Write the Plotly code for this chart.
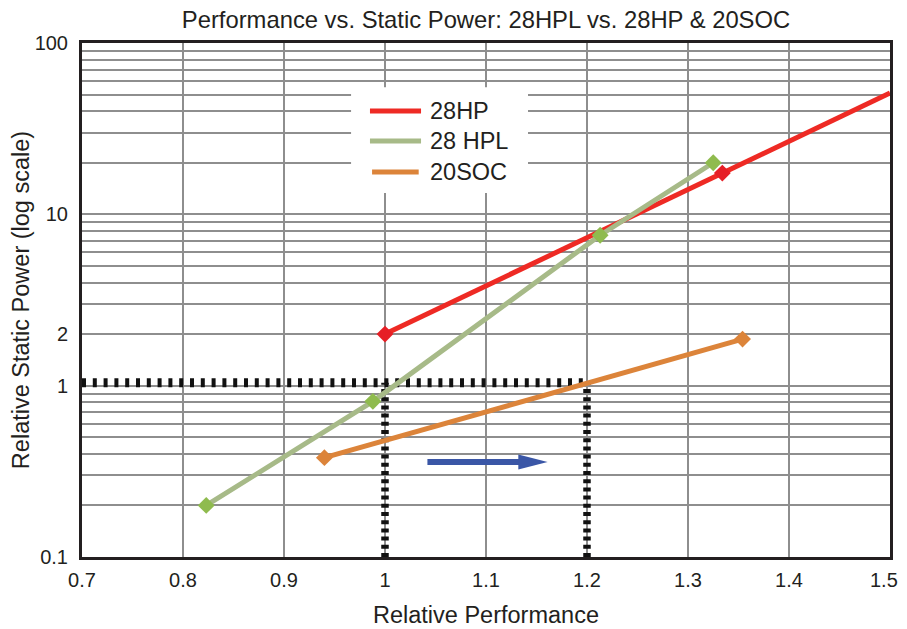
import plotly.graph_objects as go

# ---------------- data ----------------
hp_x = [1.0, 1.334, 1.5]
hp_y = [2.0, 17.4, 51.0]
hp_marker_x = [1.0, 1.334]
hp_marker_y = [2.0, 17.4]

hpl_x = [0.823, 0.988, 1.213, 1.325]
hpl_y = [0.2, 0.81, 7.55, 20.0]

soc_x = [0.94, 1.354]
soc_y = [0.38, 1.87]

series_names = ["28HP", "28 HPL", "20SOC"]

ref_y = 1.04
ref_x_start = 0.7
ref_x_marks = [1.0, 1.2]

arrow_x0 = 1.042
arrow_xhead = 1.132
arrow_xtip = 1.161
arrow_y = 0.358

x_ticks = [0.7, 0.8, 0.9, 1.0, 1.1, 1.2, 1.3, 1.4, 1.5]
y_labeled = {0.1: "0.1", 1: "1", 2: "2", 10: "10", 100: "100"}

# ---------------- styles ----------------
RED = "#ee2a24"
RED_M = "#e61f26"
GREEN_L = "#a7ba88"
GREEN_M = "#8fbb4e"
ORANGE = "#dc843a"
BLUE = "#3a56a6"
GRID = "#8e8e8e"
FRAME = "#231f20"
TXT = "#231f20"
FONT = "Liberation Sans, Arial, sans-serif"

# log grid values
y_tickvals = []
for dec in [0.1, 1, 10]:
    for k in range(1, 10):
        y_tickvals.append(round(dec * k, 6))
y_tickvals.append(100)
y_ticktext = [y_labeled.get(v, "") for v in y_tickvals]

# last x label is drawn as an annotation nudged left so it stays inside the window
x_ticktext = [f"{v:g}" for v in x_ticks[:-1]] + [""]

fig = go.Figure()

# reference dotted lines
fig.add_trace(go.Scatter(x=[ref_x_start, ref_x_marks[-1]], y=[ref_y, ref_y], mode="lines",
                         line=dict(color="#111111", width=9, dash="4px,6.8px"),
                         showlegend=False, hoverinfo="skip"))
for xm in ref_x_marks:
    fig.add_trace(go.Scatter(x=[xm, xm], y=[0.1, ref_y], mode="lines",
                             line=dict(color="#111111", width=7.5, dash="4px,4.2px"),
                             showlegend=False, hoverinfo="skip"))

# 28HP line
fig.add_trace(go.Scatter(x=hp_x, y=hp_y, mode="lines", line=dict(color=RED, width=5),
                         showlegend=False))
# 28 HPL
fig.add_trace(go.Scatter(x=hpl_x, y=hpl_y, mode="lines+markers", line=dict(color=GREEN_L, width=5),
                         marker=dict(symbol="diamond", size=13, color=GREEN_M),
                         showlegend=False))
# 28HP markers
fig.add_trace(go.Scatter(x=hp_marker_x, y=hp_marker_y, mode="markers",
                         marker=dict(symbol="diamond", size=13, color=RED_M),
                         showlegend=False))
# 20SOC
fig.add_trace(go.Scatter(x=soc_x, y=soc_y, mode="lines+markers", line=dict(color=ORANGE, width=5),
                         marker=dict(symbol="diamond", size=13, color=ORANGE),
                         showlegend=False))

shapes = []
# arrow
shapes.append(dict(type="line", xref="x", yref="y", x0=arrow_x0, x1=arrow_xhead + 0.002,
                   y0=arrow_y, y1=arrow_y, line=dict(color=BLUE, width=6), layer="above"))
hh = 10 ** (7.5 / 171.3)
shapes.append(dict(type="path", xref="x", yref="y",
                   path=f"M {arrow_xtip},{arrow_y} L {arrow_xhead},{arrow_y*hh} L {arrow_xhead},{arrow_y/hh} Z",
                   fillcolor=BLUE, line=dict(color=BLUE, width=0), layer="above"))

# manual legend
shapes.append(dict(type="rect", xref="paper", yref="paper", x0=0.333, x1=0.552, y0=0.708, y1=0.914,
                   fillcolor="white", line=dict(width=0), layer="above"))
legend_colors = [RED, GREEN_L, ORANGE]
legend_y = [0.8677, 0.8093, 0.749]
legend_x0 = [0.3564, 0.3564, 0.3590]
legend_x1 = [0.4196, 0.4196, 0.4167]
annotations = []
for name, col, ly, lx0, lx1 in zip(series_names, legend_colors, legend_y, legend_x0, legend_x1):
    shapes.append(dict(type="line", xref="paper", yref="paper", x0=lx0, x1=lx1, y0=ly, y1=ly,
                       line=dict(color=col, width=5), layer="above"))
    annotations.append(dict(xref="paper", yref="paper", x=0.4282, y=ly, text=name, showarrow=False,
                            xanchor="left", yanchor="middle", font=dict(size=23.5, color=TXT, family=FONT)))

annotations.append(dict(xref="x", yref="paper", x=x_ticks[-1], y=0, text=f"{x_ticks[-1]:g}",
                        showarrow=False, xanchor="center", yanchor="middle", xshift=-6, yshift=-23,
                        font=dict(size=20, color=TXT, family=FONT)))
# x axis title
annotations.append(dict(xref="paper", yref="paper", x=0.5, y=0, text="Relative Performance",
                        showarrow=False, xanchor="center", yanchor="middle", yshift=-58,
                        font=dict(size=23.5, color=TXT, family=FONT)))

# page body has an 8px margin, so the figure is sized to fit inside the window
fig.update_layout(
    width=899, height=624,
    margin=dict(l=74, r=17, t=35, b=75),
    paper_bgcolor="white", plot_bgcolor="white",
    font=dict(family=FONT, color=TXT),
    title=dict(text="Performance vs. Static Power: 28HPL vs. 28HP & 20SOC", x=0.5317, xanchor="center",
               y=0.981, yanchor="middle", font=dict(size=23.8, family=FONT, color=TXT)),
    shapes=shapes,
    annotations=annotations,
    showlegend=False,
)
fig.update_xaxes(range=[0.7, 1.5], tickvals=x_ticks, ticktext=x_ticktext,
                 showgrid=True, gridcolor=GRID, gridwidth=1.5, zeroline=False, automargin=False,
                 showline=True, linecolor=FRAME, linewidth=3, mirror=True, ticks="",
                 ticklabelstandoff=3,
                 tickfont=dict(size=20, family=FONT, color=TXT))
fig.update_yaxes(type="log", range=[-1, 2], tickvals=y_tickvals, ticktext=y_ticktext,
                 showgrid=True, gridcolor=GRID, gridwidth=1.5, zeroline=False, automargin=False,
                 showline=True, linecolor=FRAME, linewidth=3, mirror=True, ticks="",
                 ticklabelstandoff=7,
                 tickfont=dict(size=20, family=FONT, color=TXT),
                 title=dict(text="Relative Static Power (log scale)", font=dict(size=23.5, family=FONT, color=TXT), standoff=6))

fig.write_html("out.html")
